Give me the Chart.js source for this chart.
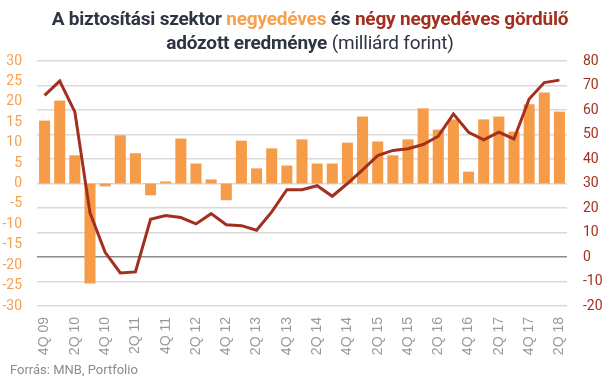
<!DOCTYPE html>
<html>
<head>
<meta charset="utf-8">
<script src="https://cdn.jsdelivr.net/npm/chart.js@4/dist/chart.umd.min.js"></script>
<style>
  html, body { margin: 0; padding: 0; background: #fff; }
  #wrap { position: relative; width: 606px; height: 379px; overflow: hidden; }
  #title { position: absolute; left: 0; top: 7px; width: 620px; text-align: center;
           font-family: Roboto, sans-serif; font-size: 19px; line-height: 24px; color: #2E3442; font-weight: 700; letter-spacing: -0.2px; }
  #title .o { color: #F7A04D; }
  #title .r { color: #A3301F; }
  #title .n { font-weight: 400; }
  #footer { position: absolute; left: 10px; top: 362px; font-family: Roboto, sans-serif; font-size: 13px; color: #8C8C8C; }
  canvas { position: absolute; left: 0; top: 0; }
</style>
</head>
<body>
<div id="wrap">
  <canvas id="c" width="606" height="379"></canvas>
  <div id="title">A biztosítási szektor <span class="o">negyedéves</span> és <span class="r">négy negyedéves gördülő</span><br>adózott eredménye <span class="n">(milliárd forint)</span></div>
  <div id="footer">Forrás: MNB, Portfolio</div>
</div>
<script>
const quarters = ["4Q 09","1Q 10","2Q 10","3Q 10","4Q 10","1Q 11","2Q 11","3Q 11","4Q 11","1Q 12","2Q 12","3Q 12","4Q 12","1Q 13","2Q 13","3Q 13","4Q 13","1Q 14","2Q 14","3Q 14","4Q 14","1Q 15","2Q 15","3Q 15","4Q 15","1Q 16","2Q 16","3Q 16","4Q 16","1Q 17","2Q 17","3Q 17","4Q 17","1Q 18","2Q 18"];
const quarterly = [15.4, 20.3, 6.9, -24.5, -0.7, 11.8, 7.4, -2.9, 0.5, 11.0, 4.9, 1.0, -4.1, 10.5, 3.7, 8.6, 4.4, 10.8, 4.9, 4.9, 10.0, 16.4, 10.3, 6.9, 10.8, 18.4, 13.2, 15.7, 2.9, 15.7, 16.4, 12.7, 19.4, 22.3, 17.6];
const rolling = [66.0, 71.8, 59.2, 18.0, 1.9, -6.5, -6.1, 15.4, 16.9, 16.1, 13.5, 17.7, 13.2, 12.8, 10.9, 18.4, 27.5, 27.5, 29.1, 24.8, 30.0, 35.6, 41.4, 43.5, 44.2, 45.9, 49.3, 58.4, 50.9, 47.8, 51.0, 48.2, 64.5, 71.2, 72.2];
const leftTicks = { min: -30, max: 30, step: 5 };
const rightTicks = { min: -20, max: 80, step: 10 };

new Chart(document.getElementById('c'), {
  data: {
    labels: quarters,
    datasets: [
      { type: 'line', label: 'négy negyedéves gördülő', data: rolling, yAxisID: 'y2',
        borderColor: '#A3301F', borderWidth: 3, pointRadius: 0, tension: 0, fill: false, order: 0 },
      { type: 'bar', label: 'negyedéves', data: quarterly, yAxisID: 'y',
        backgroundColor: '#F69C48', barPercentage: 0.73, categoryPercentage: 1.0, order: 1 }
    ]
  },
  options: {
    responsive: false,
    animation: false,
    layout: { padding: { top: 61, bottom: 20, left: 0, right: 0 } },
    plugins: { legend: { display: false }, tooltip: { enabled: false }, title: { display: false } },
    scales: {
      x: {
        grid: { display: false, drawTicks: false }, border: { display: false },
        ticks: { autoSkip: false, maxRotation: 90, minRotation: 90, color: '#9A9A9A', padding: 11,
                 font: { family: 'Liberation Sans', size: 14 },
                 callback: function(v, i) { return i % 2 === 0 ? quarters[i] : ''; } },
        afterFit: function(s) { s.height = 53; }
      },
      y: {
        position: 'left', min: leftTicks.min, max: leftTicks.max,
        grid: { display: false, drawTicks: false }, border: { display: false },
        ticks: { stepSize: leftTicks.step, color: '#F7A04D', padding: 15, font: { family: 'Roboto', size: 14 } },
        afterFit: function(s) { s.width = 37; }
      },
      y2: {
        position: 'right', min: rightTicks.min, max: rightTicks.max,
        border: { display: false },
        grid: { color: function(ctx) { return ctx.tick && ctx.tick.value === 0 ? '#8A8A8A' : '#DADADA'; }, lineWidth: 1.5, drawTicks: false },
        ticks: { stepSize: rightTicks.step, color: '#A3301F', padding: 16, font: { family: 'Roboto', size: 14 } },
        afterFit: function(s) { s.width = 39; }
      }
    }
  }
});
</script>
</body>
</html>
